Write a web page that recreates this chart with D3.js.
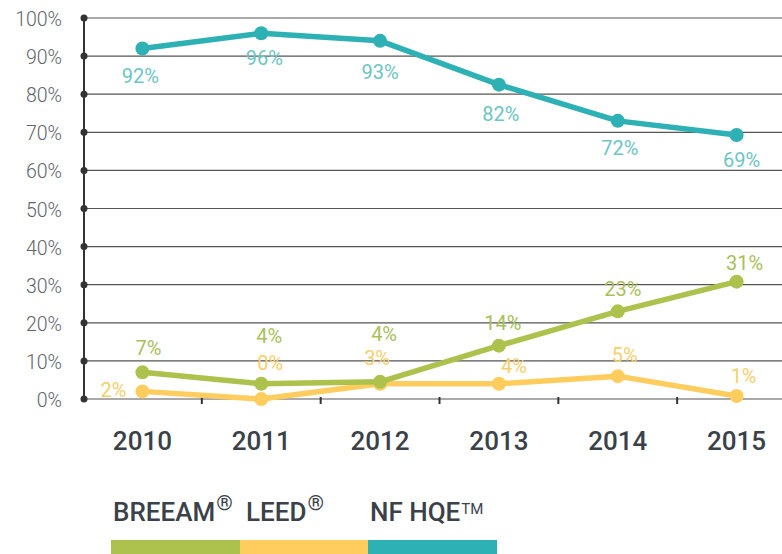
<!DOCTYPE html>
<html>
<head>
<meta charset="utf-8">
<script src="https://cdn.jsdelivr.net/npm/d3@7"></script>
<style>
  body { margin: 0; background: #fff; }
  svg { display: block; font-family: Roboto, "DejaVu Sans Condensed", sans-serif; }
</style>
</head>
<body>
<svg id="chart" width="782" height="554"></svg>
<script>
// data
const years = ['2010', '2011', '2012', '2013', '2014', '2015'];
const yTicks = [0, 10, 20, 30, 40, 50, 60, 70, 80, 90, 100];

const hqeValues = [92, 96, 94, 82.5, 73, 69.3];
const breeamValues = [7, 4, 4.5, 14, 23, 30.8];
const leedValues = [2, 0, 4, 4, 6, 0.8];

const hqeLabels = ['92%', '96%', '93%', '82%', '72%', '69%'];
const breeamLabels = ['7%', '4%', '4%', '14%', '23%', '31%'];
const leedLabels = ['2%', '0%', '3%', '4%', '5%', '1%'];

const legendNames = ['BREEAM', 'LEED', 'NF HQE'];
const legendMarks = ['®', '®', 'TM'];

const colors = { breeam: '#adc14d', leed: '#fecd5e', hqe: '#2db1b5' };
const labelColors = { breeam: '#a8c05a', leed: '#f7cf6b', hqe: '#6dc5c5' };

const svg = d3.select('#chart');

const x = d3.scaleBand().domain(years).range([83, 796]);
const y = d3.scaleLinear().domain([0, 100]).range([399, 18]);
const cx = d => x(d) + x.bandwidth() / 2;

// gridlines
svg.append('g').selectAll('line')
    .data(yTicks)
    .enter().append('line')
    .attr('x1', 84).attr('x2', 782)
    .attr('y1', d => y(d)).attr('y2', d => y(d))
    .attr('stroke', '#555')
    .attr('stroke-width', 1.2);

// y axis with dots
svg.append('line')
    .attr('x1', 84).attr('x2', 84)
    .attr('y1', y(100)).attr('y2', y(0))
    .attr('stroke', '#333').attr('stroke-width', 2);

svg.append('g').selectAll('circle')
    .data(yTicks)
    .enter().append('circle')
    .attr('cx', 84).attr('cy', d => y(d)).attr('r', 3.5)
    .attr('fill', '#333');

svg.append('g').selectAll('text')
    .data(yTicks)
    .enter().append('text')
    .attr('x', 62).attr('y', d => y(d) + 8)
    .attr('text-anchor', 'end')
    .attr('font-size', 19.5)
    .attr('font-weight', 300)
    .attr('fill', '#606469')
    .text(d => d + '%');

// x ticks between categories
svg.append('g').selectAll('line')
    .data(years.slice(1))
    .enter().append('line')
    .attr('x1', d => x(d)).attr('x2', d => x(d))
    .attr('y1', 397).attr('y2', 404)
    .attr('stroke', '#333').attr('stroke-width', 2);

svg.append('g').selectAll('text')
    .data(years)
    .enter().append('text')
    .attr('x', d => cx(d)).attr('y', 450)
    .attr('text-anchor', 'middle')
    .attr('font-size', 26)
    .attr('font-weight', 500)
    .attr('fill', '#3a4149')
    .text(d => d);

// series
const series = [
    { key: 'leed', values: leedValues, labels: leedLabels },
    { key: 'breeam', values: breeamValues, labels: breeamLabels },
    { key: 'hqe', values: hqeValues, labels: hqeLabels }
];

const line = d3.line()
    .x((d, i) => cx(years[i]))
    .y(d => y(d));

series.forEach(s => {
    svg.append('path')
        .datum(s.values)
        .attr('d', line)
        .attr('fill', 'none')
        .attr('stroke', colors[s.key])
        .attr('stroke-width', 5.5)
        .attr('stroke-linejoin', 'round');

    svg.append('g').selectAll('circle')
        .data(s.values)
        .enter().append('circle')
        .attr('cx', (d, i) => cx(years[i]))
        .attr('cy', d => y(d))
        .attr('r', 7)
        .attr('fill', colors[s.key]);
});

// label nudges so values don't collide (dx, dy of text centre from point)
const nudge = {
    hqe: [[-2, 28], [3, 25], [0, 31], [2, 29], [2, 27], [5, 25]],
    breeam: [[6, -24], [8, -48], [4, -48], [4, -23], [5, -22], [8, -19]],
    leed: [[-29, -1], [9, -36], [-3, -26], [15, -18], [7, -21], [7, -20]]
};

series.forEach(s => {
    svg.append('g').selectAll('text')
        .data(s.values)
        .enter().append('text')
        .attr('x', (d, i) => cx(years[i]) + nudge[s.key][i][0])
        .attr('y', (d, i) => y(d) + nudge[s.key][i][1] + 7)
        .attr('text-anchor', 'middle')
        .attr('font-size', 20)
        .attr('font-weight', 400)
        .attr('fill', labelColors[s.key])
        .text((d, i) => s.labels[i]);
});

// legend
const legendX = [111, 240, 368];
const legendTextX = [113, 246, 370];
const legendKeys = ['breeam', 'leed', 'hqe'];

legendKeys.forEach((k, i) => {
    svg.append('rect')
        .attr('x', legendX[i]).attr('y', 540)
        .attr('width', 129).attr('height', 14)
        .attr('fill', colors[k]);

    const t = svg.append('text')
        .attr('x', legendTextX[i]).attr('y', 521)
        .attr('font-size', 26)
        .attr('font-weight', 500)
        .attr('fill', '#3a4149')
        .text(legendNames[i]);
    t.append('tspan')
        .attr('dy', legendMarks[i] === 'TM' ? -7 : -11)
        .attr('dx', 1)
        .attr('font-weight', 400)
        .attr('font-size', legendMarks[i] === 'TM' ? 15 : 21)
        .text(legendMarks[i]);
});
</script>
</body>
</html>
